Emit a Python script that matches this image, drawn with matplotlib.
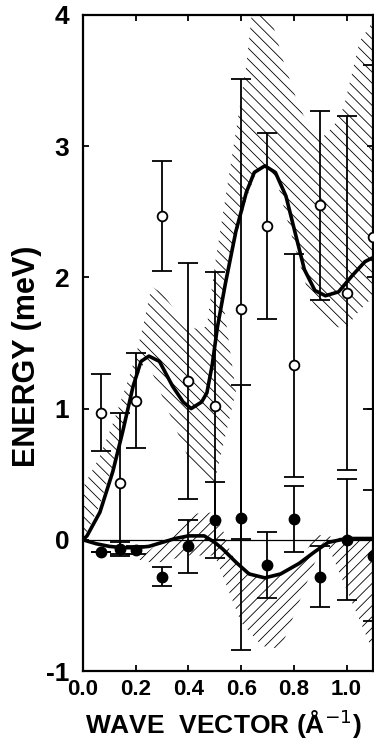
import matplotlib
matplotlib.use("Agg")
import matplotlib.pyplot as plt

plt.rcParams['font.family'] = ['Liberation Sans', 'DejaVu Sans']
plt.rcParams['axes.unicode_minus'] = False
plt.rcParams['hatch.linewidth'] = 0.6

# measured branches (open = upper mode, filled = lower mode)
q_up = [0.07, 0.14, 0.2, 0.3, 0.4, 0.5, 0.6, 0.7, 0.8, 0.9, 1.0, 1.1]
e_up = [0.97, 0.43, 1.06, 2.47, 1.21, 1.02, 1.76, 2.39, 1.33, 2.55, 1.88, 2.31]
err_up = [0.29, 0.54, 0.36, 0.42, 0.90, 1.02, 1.75, 0.71, 0.85, 0.72, 1.35, 1.31]

q_lo = [0.07, 0.14, 0.2, 0.3, 0.4, 0.5, 0.6, 0.7, 0.8, 0.9, 1.0, 1.1]
e_lo = [-0.09, -0.07, -0.08, -0.28, -0.05, 0.15, 0.17, -0.19, 0.16, -0.28, 0.00, -0.12]
err_lo = [0.0, 0.05, 0.03, 0.07, 0.20, 0.29, 1.01, 0.25, 0.25, 0.23, 0.46, 0.50]

# calculated dispersion curves
qc_up = [0.0, 0.015, 0.064, 0.113, 0.15, 0.19, 0.22, 0.25, 0.29, 0.34, 0.38, 0.41,
         0.45, 0.47, 0.49, 0.51, 0.54, 0.58, 0.62, 0.65, 0.69, 0.73, 0.77, 0.80,
         0.84, 0.88, 0.92, 0.97, 1.02, 1.07, 1.1]
ec_up = [0.0, 0.03, 0.21, 0.52, 0.82, 1.17, 1.36, 1.40, 1.36, 1.17, 1.05, 1.00,
         1.05, 1.12, 1.33, 1.62, 1.95, 2.35, 2.65, 2.80, 2.85, 2.80, 2.62, 2.38,
         2.06, 1.90, 1.86, 1.89, 2.01, 2.12, 2.15]

qc_lo = [0.0, 0.05, 0.10, 0.15, 0.20, 0.25, 0.30, 0.35, 0.40, 0.46, 0.50, 0.53,
         0.58, 0.63, 0.69, 0.75, 0.82, 0.88, 0.93, 1.00, 1.1]
ec_lo = [0.0, -0.03, -0.05, -0.06, -0.06, -0.05, -0.02, 0.01, 0.03, 0.03, -0.02, -0.07,
         -0.17, -0.26, -0.29, -0.26, -0.18, -0.09, -0.02, 0.01, 0.01]

# uncertainty regions (outline of the hatched areas)
band_up_q = [0.0, 0.0, 0.06, 0.11, 0.165, 0.20, 0.23, 0.26, 0.30, 0.36, 0.40, 0.44,
             0.47, 0.50, 0.54, 0.58, 0.62, 0.64, 0.71, 0.76, 0.82, 0.86, 0.90, 0.95,
             0.99, 1.05, 1.10, 1.10, 1.05, 1.00, 0.95, 0.90, 0.86, 0.82, 0.78, 0.74,
             0.70, 0.66, 0.62, 0.58, 0.53, 0.58, 0.50, 0.48, 0.40, 0.32, 0.24, 0.20,
             0.165, 0.11, 0.06]
band_up_e = [0.0, 0.40, 0.62, 0.87, 1.18, 1.40, 1.65, 1.93, 1.88, 1.72, 1.63, 1.60,
             1.63, 2.09, 2.60, 3.11, 3.62, 4.0, 4.0, 3.65, 3.30, 3.15, 3.05, 3.15,
             3.30, 3.80, 3.95, 1.85, 1.75, 1.62, 1.62, 1.72, 1.85, 2.12, 2.40, 2.70,
             2.83, 2.82, 2.60, 2.30, 1.84, 1.13, 0.45, 0.41, 0.62, 1.00, 1.38, 1.22,
             0.95, 0.55, 0.25]

band_lo_q = [0.21, 0.27, 0.33, 0.43, 0.50, 0.54, 0.56, 0.60, 0.65, 0.70, 0.75, 0.80,
             0.84, 0.88, 0.92, 1.00, 1.10, 1.10, 0.92, 0.90, 0.75, 0.68, 0.60, 0.50,
             0.39, 0.30, 0.25]
band_lo_e = [-0.15, -0.05, 0.06, 0.20, 0.21, 0.03, -0.10, -0.20, -0.27, -0.29, -0.26, -0.21,
             -0.12, 0.04, 0.03, 0.01, 0.0, -0.85, 0.0, -0.07, -0.83, -0.81, -0.63, -0.12,
             -0.12, -0.17, -0.17]

fig = plt.figure(figsize=(3.74, 7.40), dpi=100)
ax = fig.add_axes([0.222, 0.0932, 0.775, 0.8866])

ax.fill(band_up_q, band_up_e, facecolor='none', edgecolor='black', hatch='\\\\\\', lw=0)
ax.fill(band_lo_q, band_lo_e, facecolor='none', edgecolor='black', hatch='///', lw=0)

ax.axhline(0, color='black', lw=0.9)
ax.plot(qc_up, ec_up, color='black', lw=2.6, solid_capstyle='round')
ax.plot(qc_lo, ec_lo, color='black', lw=2.6, solid_capstyle='round')

ax.errorbar(q_up, e_up, yerr=err_up, fmt='o', ms=7, mfc='white', mec='black', mew=1.3,
            ecolor='black', elinewidth=1.3, capsize=7, capthick=1.3, zorder=5)
ax.errorbar(q_lo, e_lo, yerr=err_lo, fmt='o', ms=7.5, mfc='black', mec='black',
            ecolor='black', elinewidth=1.3, capsize=7, capthick=1.3, zorder=5)

ax.set_xlim(0, 1.1)
ax.set_ylim(-1, 4)
ax.set_xticks([0.0, 0.2, 0.4, 0.6, 0.8, 1.0])
ax.set_xticklabels(['0.0', '0.2', '0.4', '0.6', '0.8', '1.0'])
ax.set_yticks([-1, 0, 1, 2, 3, 4])
ax.set_yticklabels(['-1', '0', '1', '2', '3', '4'])
ax.tick_params(direction='in', top=True, right=True, length=4, width=1.3)
ax.tick_params(axis='x', labelsize=16, pad=6)
ax.tick_params(axis='y', labelsize=19, pad=10)
for lab in ax.get_xticklabels() + ax.get_yticklabels():
    lab.set_fontweight('bold')
for sp in ax.spines.values():
    sp.set_linewidth(1.6)

ax.set_xlabel('WAVE  VECTOR (Å$^{-1}$)', fontsize=19, fontweight='bold')
ax.set_ylabel('ENERGY (meV)', fontsize=22, fontweight='bold')
ax.xaxis.set_label_coords(0.483, -0.056)
ax.yaxis.set_label_coords(-0.14, 0.48)

fig.savefig('out.png', dpi=100)
